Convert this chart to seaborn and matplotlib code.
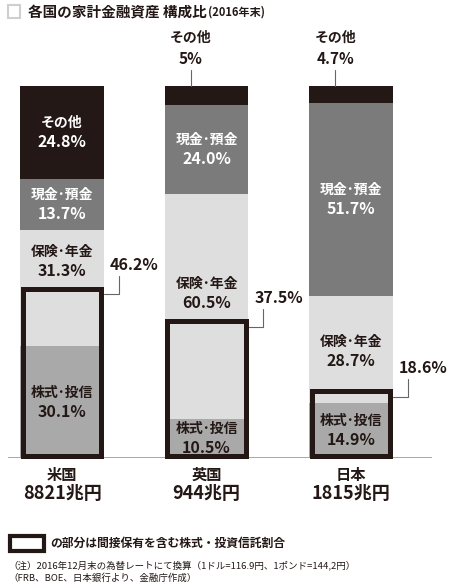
import numpy as np
import matplotlib
matplotlib.use("Agg")
import matplotlib.pyplot as plt
from matplotlib.patches import Rectangle
import seaborn as sns

# data
countries = ["米国", "英国", "日本"]
totals = ["8821兆円", "944兆円", "1815兆円"]
categories = ["株式･投信", "保険･年金", "現金･預金", "その他"]
stocks = [30.1, 10.5, 14.9]
insurance = [31.3, 60.5, 28.7]
cash = [13.7, 24.0, 51.7]
other = [24.8, 5.0, 4.7]
indirect = [46.2, 37.5, 18.6]

# styles
seg_colors = ["#a9a9a9", "#dedede", "#7b7b7b", "#231815"]
txt_colors = ["#231815", "#231815", "white", "white"]
ink = "#231815"
bar_w = 0.58
W, H = 450, 587

sns.set_style("white")
plt.rcParams["font.family"] = ["Noto Sans CJK JP", "DejaVu Sans"]


def fx(px):
    return px / W


def fy(py):
    return 1 - py / H


fig = plt.figure(figsize=(W / 100, H / 100), dpi=100)
ax = fig.add_axes([fx(8), fy(458), 424 / W, 372 / H])

series = [stocks, insurance, cash, other]
bottom = np.zeros(len(countries))
bottoms = []
for vals, col in zip(series, seg_colors):
    sns.barplot(x=countries, y=vals, bottom=bottom, color=col, saturation=1,
                width=bar_w, linewidth=0, ax=ax)
    bottoms.append(bottom.copy())
    bottom = bottom + np.array(vals)

ax.set_xlim(-0.374, 2.56)
ax.set_ylim(0, 100)
ax.set_xticks([])
ax.set_yticks([])
ax.set_xlabel("")
ax.set_ylabel("")
sns.despine(ax=ax, left=True, bottom=True)
ax.axhline(0, color="#a0a0a0", lw=1.3, zorder=5)

px_x = 424 / 2.934
px_y = 372 / 100
gap = 9.5 / px_y

# segment labels (extra shift where the box hides part of a segment)
label_shift = [[0, 0, 0], [7.0, 3.4, -0.7], [0, 0, 0], [0, 0, 0]]
for k, (vals, name) in enumerate(zip(series, categories)):
    for i, v in enumerate(vals):
        if k == 3 and v < 10:
            # small "その他" goes above the bar
            xl = i - bar_w / 2 + 0.18
            ax.plot([xl, xl], [100, 104.3], color="#666", lw=0.8, clip_on=False)
            ax.text(xl, 107.2, f"{v:g}%", ha="center", va="center",
                    fontsize=11, fontweight="bold", color=ink)
            ax.text(xl, 113.0, name, ha="center", va="center",
                    fontsize=10, fontweight="bold", color=ink)
            continue
        yc = bottoms[k][i] + v / 2 + label_shift[k][i]
        ax.text(i, yc + gap, name, ha="center", va="center",
                fontsize=10, fontweight="bold", color=txt_colors[k], zorder=6)
        ax.text(i, yc - gap, f"{v:.1f}%", ha="center", va="center",
                fontsize=11.5, fontweight="bold", color=txt_colors[k], zorder=6)

# indirect-holding boxes and leader lines
lw_px = 5
for i, v in enumerate(indirect):
    ix = lw_px / 2 / px_x
    iy = lw_px / 2 / px_y
    ax.add_patch(Rectangle((i - bar_w / 2 + ix, iy), bar_w - 2 * ix, v - 2 * iy,
                           fill=False, ec=ink, lw=lw_px * 0.72, zorder=7,
                           clip_on=False))
    xr = i + bar_w / 2
    xv = xr + 15 / px_x
    ax.plot([xr, xv, xv], [v - 2.2, v - 2.2, v + 2.6], color="#666", lw=0.8,
            clip_on=False, zorder=4)
    ax.text(xr + 6 / px_x, v + 5.6, f"{v:.1f}%", ha="left", va="center",
            fontsize=11.5, fontweight="bold", color=ink)

# country names and totals
for i, (c, t) in enumerate(zip(countries, totals)):
    ax.text(i, -4.6, c, ha="center", va="center", fontsize=11,
            fontweight="bold", color=ink)
    ax.text(i, -9.6, t, ha="center", va="center", fontsize=13,
            fontweight="bold", color=ink)

# title
fig.add_artist(Rectangle((fx(8), fy(18)), 12 / W, 13 / H, fill=False,
                         ec="#cfcfcf", lw=1.5, transform=fig.transFigure))
t1 = fig.text(fx(28), fy(12), "各国の家計金融資産 構成比", ha="left", va="center",
              fontsize=10.5, fontweight="bold", color=ink)
fig.canvas.draw()
ax.annotate("(2016年末)", xy=(1, 0.5), xycoords=t1, xytext=(1, 0),
            textcoords="offset points", ha="left", va="center",
            fontsize=8, fontweight="bold", color=ink)

# legend box
fig.add_artist(Rectangle((fx(9.5), fy(550.5)), 34 / W, 15 / H, fill=False,
                         ec=ink, lw=3.0, transform=fig.transFigure))
fig.text(fx(50), fy(543), "の部分は間接保有を含む株式・投資信託割合", ha="left",
         va="center", fontsize=8.5, fontweight="bold", color=ink)

# notes
fig.text(fx(8), fy(565), "（注）2016年12月末の為替レートにて換算（1ドル=116.9円、1ポンド=144,2円）",
         ha="left", va="center", fontsize=6.8, color=ink)
fig.text(fx(8), fy(578), "（FRB、BOE、日本銀行より、金融庁作成）",
         ha="left", va="center", fontsize=6.8, color=ink)

fig.savefig("out.png", dpi=100)
